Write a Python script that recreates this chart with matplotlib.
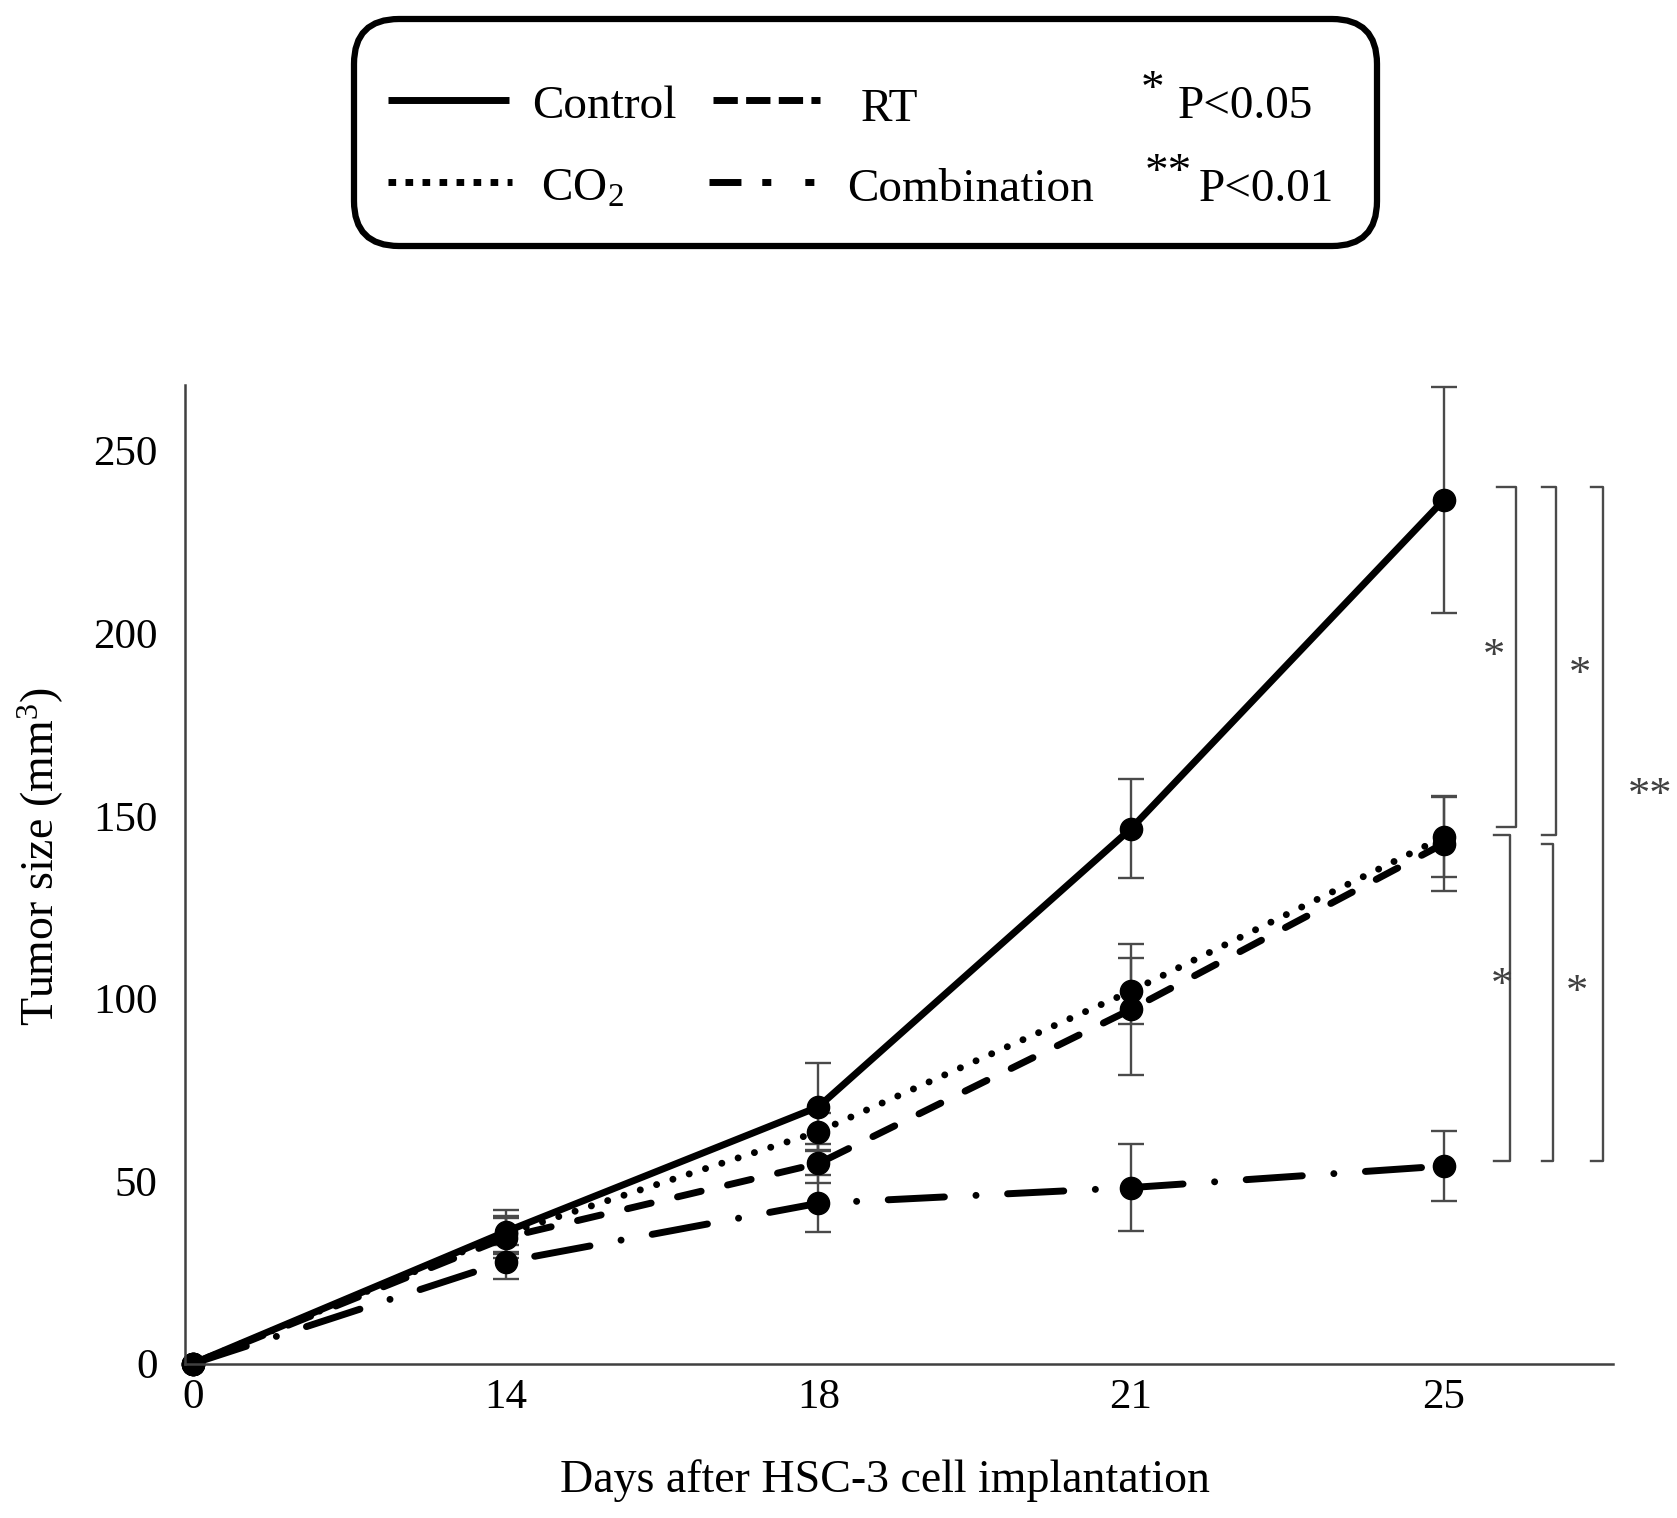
import matplotlib
matplotlib.use('Agg')
import numpy as np
import matplotlib.pyplot as plt
from matplotlib.patches import FancyBboxPatch
from matplotlib.lines import Line2D

plt.rcParams['font.family'] = ['Liberation Serif', 'DejaVu Serif']
plt.rcParams['mathtext.fontset'] = 'custom'
plt.rcParams['mathtext.rm'] = 'Liberation Serif'
plt.rcParams['mathtext.it'] = 'Liberation Serif:italic'
plt.rcParams['mathtext.bf'] = 'Liberation Serif:bold'
plt.rcParams['mathtext.default'] = 'rm'

# ---------------- data ----------------
days = ['0', '14', '18', '21', '25']
control = [0, 36.1, 70.3, 146.5, 236.5]
control_err = [0, 6.0, 12.0, 13.5, 31.0]
co2 = [0, 35.5, 63.5, 102.0, 144.2]
co2_err = [0, 5.0, 5.0, 9.0, 11.0]
rt = [0, 34.5, 54.8, 97.0, 142.4]
rt_err = [0, 5.5, 5.4, 18.0, 13.0]
combination = [0, 27.9, 43.9, 48.2, 54.1]
combination_err = [0, 4.7, 7.8, 11.8, 9.5]
yticks = [0, 50, 100, 150, 200, 250]

# significance brackets: top value, bottom value, label
bracket_top = [240, 240, 240, 144.7, 142.4]
bracket_bottom = [147, 144.7, 55.5, 55.5, 55.5]
bracket_labels = ['*', '*', '**', '*', '*']

W, H = 1677, 1518
fig = plt.figure(figsize=(W / 100, H / 100), dpi=100)

ax = fig.add_axes([0.1105, 0.1017, 0.9617 - 0.1105, 0.7465 - 0.1017])
x = np.arange(len(days))

styles = [
    (control, control_err, dict(linestyle='-')),
    (co2, co2_err, dict(linestyle=(0, (0.01, 2.46)), dash_capstyle='round')),
    (rt, rt_err, dict(linestyle=(0, (3.5, 3.9)), dash_capstyle='round')),
    (combination, combination_err,
     dict(linestyle=(0, (8.1, 4.55, 0.01, 4.55)), dash_capstyle='round')),
]
err_color = '#4a4a4a'
for vals, errs, kw in styles:
    vals = np.asarray(vals, float)
    errs = np.asarray(errs, float)
    ax.errorbar(x[1:], vals[1:], yerr=errs[1:], fmt='none', ecolor=err_color,
                elinewidth=1.7, capsize=9.5, capthick=1.7, zorder=1.5,
                clip_on=False)
    ax.plot(x, vals, color='black', lw=5, marker='o', ms=16,
            clip_on=False, zorder=2, **kw)

ax.set_xlim(-0.024, 4.54)
ax.set_ylim(0, 268)
ax.set_xticks(x)
ax.set_xticklabels(days)
ax.set_yticks(yticks)
ax.tick_params(axis='both', length=0, labelsize=31, colors='black')
ax.tick_params(axis='y', pad=20)
ax.tick_params(axis='x', pad=11)
for s in ['top', 'right']:
    ax.spines[s].set_visible(False)
for s in ['left', 'bottom']:
    ax.spines[s].set_color('#404040')
    ax.spines[s].set_linewidth(1.8)

# brackets
bracket_x = [4.229, 4.360, 4.510, 4.212, 4.349]
tick_x = [4.171, 4.315, 4.469, 4.161, 4.315]
star_pos = [(4.161, 196), (4.435, 191), (4.658, 158), (4.185, 106), (4.425, 104)]
for bx, tx, top, bot, lab, (sx, sy) in zip(bracket_x, tick_x, bracket_top,
                                           bracket_bottom, bracket_labels, star_pos):
    ax.plot([tx, bx, bx, tx], [top, top, bot, bot], color=err_color, lw=1.7,
            clip_on=False, zorder=1)
    ax.text(sx, sy - 5.6, lab, ha='center', va='baseline', fontsize=32,
            color='#404040', clip_on=False)

# overlay in pixel units
ov = fig.add_axes([0, 0, 1, 1])
ov.set_xlim(0, W)
ov.set_ylim(H, 0)
ov.axis('off')

box = FancyBboxPatch((354, 19), 1377 - 354, 246 - 19,
                     boxstyle='round,pad=0,rounding_size=45',
                     lw=4.5, ec='black', fc='white')
ov.add_patch(box)

fs = 34
# row 1
ov.add_line(Line2D([388, 509], [100, 100], color='black', lw=5,
                   solid_capstyle='butt'))
ov.text(532, 118, 'Control', fontsize=fs, ha='left', va='baseline')
ov.add_line(Line2D([713, 820], [100, 100], color='black', lw=5,
                   linestyle=(0, (3.5, 1.2)), dash_capstyle='butt'))
ov.text(861, 121, 'RT', fontsize=fs, ha='left', va='baseline')
ov.text(1141, 102, '*', fontsize=fs, ha='left', va='baseline')
ov.text(1178, 118, 'P<0.05', fontsize=fs, ha='left', va='baseline')
# row 2
ov.add_line(Line2D([388, 512], [182, 182], color='black', lw=5,
                   linestyle=(0, (1.1, 1.35)), dash_capstyle='butt'))
ov.text(541, 201, 'CO$_2$', fontsize=fs, ha='left', va='baseline')
ov.add_line(Line2D([709, 820], [182, 182], color='black', lw=5,
                   linestyle=(0, (4.6, 3.0, 1.3, 4.9, 1.3, 10)),
                   dash_capstyle='butt'))
ov.text(847, 201, 'Combination', fontsize=fs, ha='left', va='baseline')
ov.text(1145, 185, '**', fontsize=fs, ha='left', va='baseline')
ov.text(1199, 201, 'P<0.01', fontsize=fs, ha='left', va='baseline')

# axis titles
ov.text(41, 857, 'Tumor size (mm$^3$)', fontsize=33, rotation=90,
        ha='center', va='center')
ov.text(885, 1481, 'Days after HSC-3 cell implantation', fontsize=33,
        ha='center', va='center')

fig.savefig('out.png', dpi=100, facecolor='white')
